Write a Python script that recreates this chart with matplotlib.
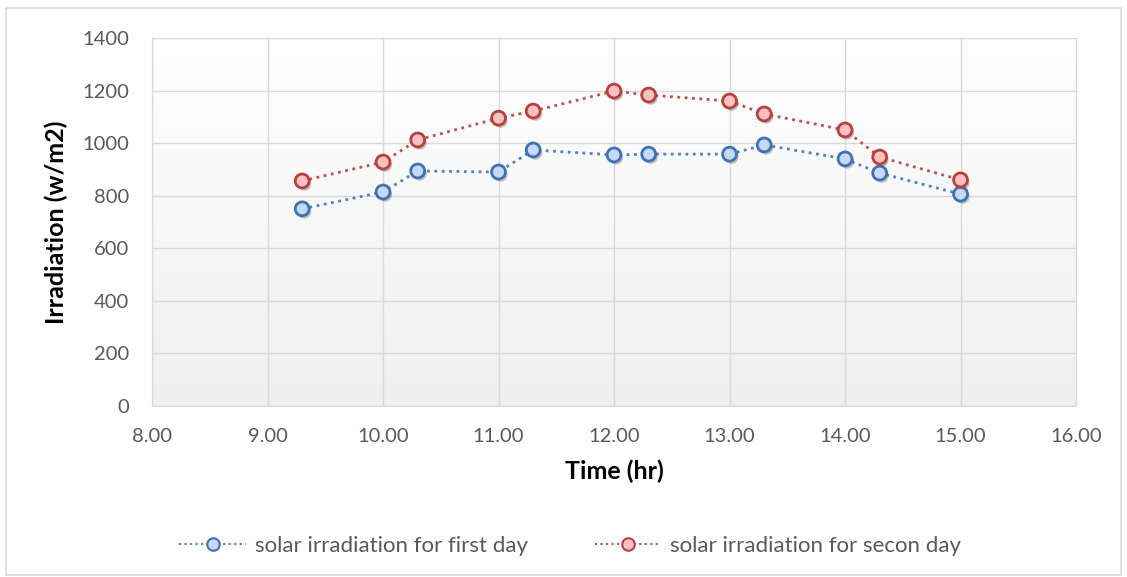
import numpy as np
import matplotlib.pyplot as plt
import matplotlib.patheffects as pe
from matplotlib.patches import Rectangle

# data
time_hr = [9.3, 10.0, 10.3, 11.0, 11.3, 12.0, 12.3, 13.0, 13.3, 14.0, 14.3, 15.0]
day1 = [750, 814, 894, 890, 974, 955, 958, 958, 993, 940, 886, 806]
day2 = [856, 928, 1012, 1095, 1122, 1198, 1183, 1160, 1111, 1050, 947, 860]

plt.rcParams['font.family'] = ['Lato', 'DejaVu Sans']

fig = plt.figure(figsize=(11.27, 5.77), dpi=100)
ax = fig.add_axes([0.1349, 0.2964, 0.8199, 0.6378])

# outer chart border
fig.patches.append(Rectangle((0.005, 0.003), 0.99, 0.984, transform=fig.transFigure,
                             fill=False, edgecolor='#d9d9d9', linewidth=1.2))

# gradient background of plot area
grad = np.linspace(1.0, 0.0, 256).reshape(-1, 1)
ax.imshow(grad, extent=[0, 1, 0, 1], transform=ax.transAxes, aspect='auto',
          cmap=plt.matplotlib.colors.LinearSegmentedColormap.from_list('bg', ['#efefef', '#ffffff']),
          zorder=0)

shadow = [pe.SimplePatchShadow(offset=(1.5, -2), shadow_rgbFace='#555555', alpha=0.35), pe.Normal()]

ax.plot(time_hr, day1, linestyle=':', color='#4f81bd', linewidth=2, zorder=3)
ax.plot(time_hr, day1, linestyle='none', marker='o', markersize=10, markerfacecolor='#c6d9f7',
        markeredgecolor='#3f72b4', markeredgewidth=2, zorder=4, path_effects=shadow)
ax.plot(time_hr, day2, linestyle=':', color='#c0504d', linewidth=2, zorder=3)
ax.plot(time_hr, day2, linestyle='none', marker='o', markersize=10, markerfacecolor='#f9c1c1',
        markeredgecolor='#b8413e', markeredgewidth=2, zorder=4, path_effects=shadow)

# legend handles
h1, = ax.plot([], [], linestyle=':', color='#4f81bd', linewidth=1.5, marker='o', markersize=9,
              markerfacecolor='#c6d9f7', markeredgecolor='#3f72b4', markeredgewidth=1.5)
h2, = ax.plot([], [], linestyle=':', color='#c0504d', linewidth=1.5, marker='o', markersize=9,
              markerfacecolor='#f9c1c1', markeredgecolor='#b8413e', markeredgewidth=1.5)
fig.legend([h1, h2], ['solar irradiation for first day', 'solar irradiation for secon day'],
           loc='center', bbox_to_anchor=(0.506, 0.054), ncol=2, frameon=False, fontsize=16,
           handlelength=3.0, handletextpad=0.4, columnspacing=3.0, labelcolor='#595959')

ax.set_xlim(8, 16)
ax.set_ylim(0, 1400)
ax.set_xticks(np.arange(8, 16.5, 1))
ax.set_xticklabels(['%.2f' % v for v in np.arange(8, 16.5, 1)])
ax.set_yticks(np.arange(0, 1401, 200))
ax.tick_params(length=0, labelsize=14.5, colors='#595959')
ax.tick_params(axis='y', pad=16.5)
ax.tick_params(axis='x', pad=16)
ax.grid(True, color='#d9d9d9', linewidth=1)
ax.set_axisbelow(True)
for s in ax.spines.values():
    s.set_color('#d9d9d9')

ax.set_xlabel('Time (hr)', fontsize=18, fontweight='bold', labelpad=10)
ax.set_ylabel('Irradiation (w/m2)', fontsize=18, fontweight='bold', labelpad=10)

fig.savefig('out.png', dpi=100)
